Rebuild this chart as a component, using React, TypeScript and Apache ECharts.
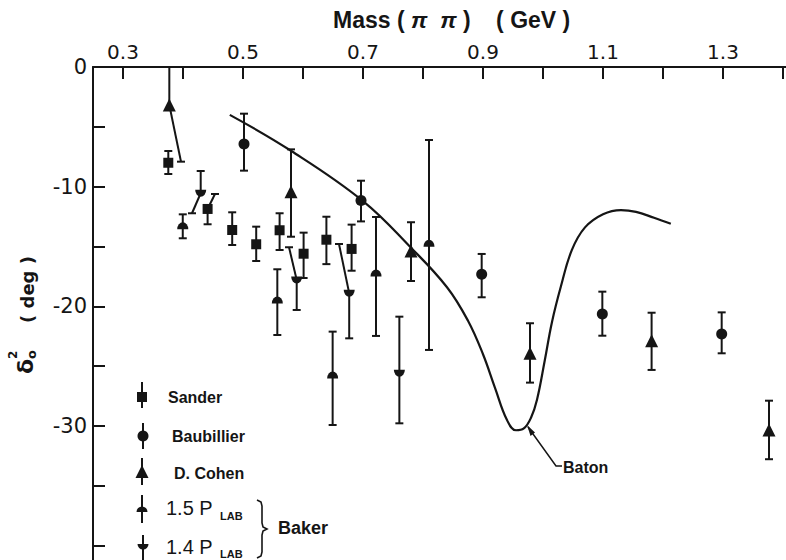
import React, { useEffect, useRef } from 'react';
import * as echarts from 'echarts';

const xTickValues = [0.3, 0.4, 0.5, 0.6, 0.7, 0.8, 0.9, 1.0, 1.1, 1.2, 1.3, 1.4];
const xLabelValues = [0.3, 0.5, 0.7, 0.9, 1.1, 1.3];
const yTickValues = [0, -5, -10, -15, -20, -25, -30, -35, -40];
const yLabelValues = [0, -10, -20, -30];

// [mass, delta, low end, high end]
const sander = [
  [0.3755, -8.0, -8.94, -7.02],
  [0.441, -11.86, -13.14, -11.86],
  [0.482, -13.62, -14.87, -12.14],
  [0.522, -14.81, -16.21, -13.34],
  [0.561, -13.64, -15.29, -12.22],
  [0.601, -15.6, -17.63, -13.84],
  [0.639, -14.43, -16.47, -12.51],
  [0.681, -15.2, -17.02, -13.17],
];
const baubillier = [
  [0.5017, -6.43, -8.66, -3.9],
  [0.6967, -11.15, -12.9, -9.5],
  [0.8978, -17.32, -19.24, -15.62],
  [1.0989, -20.63, -22.45, -18.77],
  [1.2978, -22.31, -23.92, -20.5],
];
const cohen = [
  [0.3772, -3.17, -3.17, 0],
  [0.58, -10.42, -14.18, -6.88],
  [0.78, -15.37, -17.88, -12.97],
  [0.9783, -23.92, -26.37, -21.41],
  [1.181, -22.87, -25.31, -20.53],
  [1.3767, -30.33, -32.77, -27.88],
];
const baker15 = [
  [0.3996, -13.26, -14.31, -12.31],
  [0.5572, -19.47, -22.39, -16.9],
  [0.6494, -25.73, -29.91, -22.11],
  [0.7217, -17.21, -22.47, -12.53],
  [0.81, -14.73, -23.64, -6.1],
];
const baker14 = [
  [0.4295, -10.55, -10.55, -8.69],
  [0.5895, -17.79, -20.3, -17.79],
  [0.677, -18.9, -22.67, -18.9],
  [0.7606, -25.59, -29.77, -20.86],
];
// offset (slanted) error bars: [mass from, delta from, mass to, delta to]
const offsetBars = [
  [0.3772, -3.17, 0.3967, -7.91],
  [0.4295, -10.55, 0.415, -12.22],
  [0.441, -11.86, 0.4533, -10.61],
  [0.5895, -17.79, 0.5767, -15.06],
  [0.677, -18.9, 0.66, -14.79],
];
const batonMass = [0.478, 0.58, 0.70, 0.78, 0.84, 0.875, 0.90, 0.92, 0.94, 0.955, 0.968, 0.98, 0.99, 1.003, 1.015, 1.03, 1.048, 1.07, 1.10, 1.13, 1.155, 1.185, 1.213];
const batonDelta = [-4.0, -7.0, -11.2, -15.1, -18.4, -21.2, -24.0, -26.8, -29.5, -30.35, -30.2, -29.3, -27.8, -24.5, -21.3, -18.3, -15.3, -13.4, -12.3, -11.95, -12.1, -12.6, -13.1];

const INK = '#151515';
const SANS = '"Liberation Sans", Arial, sans-serif';
const DEJAVU = '"DejaVu Sans", sans-serif';

const domePath = 'path://M0,10 A10,10 0 0 1 20,10 Z';
const bowlPath = 'path://M0,0 L20,0 A10,10 0 0 1 0,0 Z';

function errorBarItem(params: any, api: any) {
  const x = api.value(0);
  const v = api.value(1);
  const lo = api.value(2);
  const hi = api.value(3);
  const pLo = api.coord([x, lo]);
  const pHi = api.coord([x, hi]);
  const children: any[] = [
    { type: 'line', shape: { x1: pLo[0], y1: pLo[1], x2: pHi[0], y2: pHi[1] }, style: { stroke: INK, lineWidth: 2 } },
  ];
  if (lo !== v) {
    children.push({ type: 'line', shape: { x1: pLo[0] - 4, y1: pLo[1], x2: pLo[0] + 4, y2: pLo[1] }, style: { stroke: INK, lineWidth: 2 } });
  }
  if (hi !== v && hi !== 0) {
    children.push({ type: 'line', shape: { x1: pHi[0] - 4, y1: pHi[1], x2: pHi[0] + 4, y2: pHi[1] }, style: { stroke: INK, lineWidth: 2 } });
  }
  return { type: 'group', children };
}

function offsetBarItem(params: any, api: any) {
  const a = api.coord([api.value(0), api.value(1)]);
  const b = api.coord([api.value(2), api.value(3)]);
  return {
    type: 'group',
    children: [
      { type: 'line', shape: { x1: a[0], y1: a[1], x2: b[0], y2: b[1] }, style: { stroke: INK, lineWidth: 2 } },
      { type: 'line', shape: { x1: b[0] - 4, y1: b[1], x2: b[0] + 4, y2: b[1] }, style: { stroke: INK, lineWidth: 2 } },
    ],
  };
}

function legendEntry(cx: number, top: number, bottom: number, symbol: any) {
  return [
    { type: 'line', shape: { x1: cx, y1: top, x2: cx, y2: bottom }, style: { stroke: INK, lineWidth: 2 } },
    symbol,
  ];
}

export default function App() {
  const ref = useRef<HTMLDivElement>(null);
  useEffect(() => {
    if (!ref.current) return;
    const chart = echarts.init(ref.current, null, { renderer: 'svg' });
    const allBars = [...sander, ...baubillier, ...cohen, ...baker15, ...baker14];
    const graphic: any[] = [
      // title
      {
        type: 'text', x: 333, y: 20,
        style: {
          text: 'Mass ( {p|π}  {p|π} )    ( GeV )',
          fontSize: 23, fontWeight: 'bold', fontFamily: SANS, fill: INK, verticalAlign: 'middle',
          rich: { p: { fontSize: 23, fontWeight: 'bold', fontStyle: 'italic', fontFamily: SANS, fill: INK } },
        },
      },
      // y axis name
      {
        type: 'group', x: 25, y: 374, rotation: Math.PI / 2,
        children: [
          { type: 'text', x: 0, y: 0, style: { text: 'δ', fontSize: 22, fontWeight: 'bold', fontFamily: DEJAVU, fill: INK, verticalAlign: 'middle' } },
          { type: 'text', x: 15, y: -12, style: { text: '2', fontSize: 12, fontWeight: 'bold', fontFamily: DEJAVU, fill: INK, verticalAlign: 'middle' } },
          { type: 'text', x: 15, y: 6, style: { text: 'o', fontSize: 13, fontWeight: 'bold', fontFamily: DEJAVU, fill: INK, verticalAlign: 'middle' } },
          { type: 'text', x: 51, y: 2, style: { text: '( deg )', fontSize: 18, fontWeight: 'bold', fontFamily: DEJAVU, fill: INK, verticalAlign: 'middle' } },
        ],
      },
      // legend
      ...legendEntry(142, 382, 408, { type: 'rect', shape: { x: 137, y: 392, width: 10, height: 10 }, style: { fill: INK } }),
      { type: 'text', x: 168, y: 397, style: { text: 'Sander', fontSize: 16, fontWeight: 'bold', fontFamily: SANS, fill: INK, verticalAlign: 'middle' } },
      ...legendEntry(143, 423, 449, { type: 'circle', shape: { cx: 143, cy: 436, r: 5.5 }, style: { fill: INK } }),
      { type: 'text', x: 172, y: 436, style: { text: 'Baubillier', fontSize: 16, fontWeight: 'bold', fontFamily: SANS, fill: INK, verticalAlign: 'middle' } },
      ...legendEntry(142, 458, 485, { type: 'polygon', shape: { points: [[142, 465], [135.5, 478], [148.5, 478]] }, style: { fill: INK } }),
      { type: 'text', x: 174, y: 473, style: { text: 'D. Cohen', fontSize: 16, fontWeight: 'bold', fontFamily: SANS, fill: INK, verticalAlign: 'middle' } },
      ...legendEntry(142, 495, 523, { type: 'sector', shape: { cx: 142, cy: 512, r: 5.5, r0: 0, startAngle: Math.PI, endAngle: Math.PI * 2, clockwise: true }, style: { fill: INK } }),
      { type: 'text', x: 166, y: 508, style: { text: '1.5 P', fontSize: 20, fontFamily: SANS, fill: INK, verticalAlign: 'middle' } },
      { type: 'text', x: 220, y: 516, style: { text: 'LAB', fontSize: 11, fontWeight: 'bold', fontFamily: SANS, fill: INK, verticalAlign: 'middle' } },
      ...legendEntry(143, 535, 560, { type: 'sector', shape: { cx: 143, cy: 544, r: 5.5, r0: 0, startAngle: 0, endAngle: Math.PI, clockwise: true }, style: { fill: INK } }),
      { type: 'text', x: 166, y: 547, style: { text: '1.4 P', fontSize: 20, fontFamily: SANS, fill: INK, verticalAlign: 'middle' } },
      { type: 'text', x: 220, y: 554, style: { text: 'LAB', fontSize: 11, fontWeight: 'bold', fontFamily: SANS, fill: INK, verticalAlign: 'middle' } },
      {
        type: 'polyline',
        shape: { points: [[257, 500], [261, 502], [262, 506], [262, 523], [263, 527], [267, 529], [263, 531], [262, 535], [262, 552], [261, 556], [257, 558]] },
        style: { stroke: INK, lineWidth: 1.6, fill: null },
      },
      { type: 'text', x: 278, y: 528, style: { text: 'Baker', fontSize: 18, fontWeight: 'bold', fontFamily: SANS, fill: INK, verticalAlign: 'middle' } },
      // Baton annotation
      { type: 'polyline', shape: { points: [[528, 427], [556, 466], [562, 466]] }, style: { stroke: INK, lineWidth: 1.5, fill: null } },
      { type: 'polygon', shape: { points: [[527, 425], [530.5, 436], [535, 432.5]] }, style: { fill: INK } },
      { type: 'text', x: 563, y: 467, style: { text: 'Baton', fontSize: 16, fontWeight: 'bold', fontFamily: SANS, fill: INK, verticalAlign: 'middle' } },
    ];

    const dot = { color: INK, opacity: 1 };

    chart.setOption({
      animation: false,
      backgroundColor: '#fff',
      grid: { left: 93, top: 67, right: 0, bottom: 0, containLabel: false },
      xAxis: {
        type: 'value', position: 'top', min: 0.25, max: 1.405,
        axisLine: { show: true, onZero: false, lineStyle: { color: INK, width: 2 } },
        axisTick: { show: true, inside: true, length: 12, customValues: xTickValues, lineStyle: { color: INK, width: 2 } },
        axisLabel: {
          show: true, customValues: xLabelValues, formatter: (v: number) => v.toFixed(1),
          fontSize: 20, fontFamily: DEJAVU, color: INK, margin: 5,
        },
        splitLine: { show: false },
      },
      yAxis: {
        type: 'value', min: -41.19, max: 0,
        axisLine: { show: true, onZero: false, lineStyle: { color: INK, width: 2 } },
        axisTick: { show: true, inside: true, length: 12, customValues: yTickValues, lineStyle: { color: INK, width: 2 } },
        axisLabel: {
          show: true, customValues: yLabelValues, formatter: (v: number) => String(v),
          fontSize: 21, fontFamily: DEJAVU, color: INK, margin: 6,
        },
        splitLine: { show: false },
      },
      graphic,
      series: [
        {
          type: 'line', name: 'Baton', data: batonMass.map((m, i) => [m, batonDelta[i]]),
          smooth: 0.4, showSymbol: false, symbol: 'none',
          lineStyle: { color: INK, width: 2.2 }, z: 2,
        },
        { type: 'custom', name: 'errors', data: allBars, renderItem: errorBarItem, encode: { x: 0, y: 1 }, z: 3 },
        { type: 'custom', name: 'offset', data: offsetBars, renderItem: offsetBarItem, encode: { x: [0, 2], y: [1, 3] }, z: 3 },
        { type: 'scatter', name: 'Sander', data: sander.map((d) => [d[0], d[1]]), symbol: 'rect', symbolSize: 10, itemStyle: dot, z: 4 },
        { type: 'scatter', name: 'Baubillier', data: baubillier.map((d) => [d[0], d[1]]), symbol: 'circle', symbolSize: 11, itemStyle: dot, z: 4 },
        { type: 'scatter', name: 'D. Cohen', data: cohen.map((d) => [d[0], d[1]]), symbol: 'triangle', symbolSize: 13, itemStyle: dot, z: 4 },
        { type: 'scatter', name: '1.5 PLAB', data: baker15.map((d) => [d[0], d[1]]), symbol: domePath, symbolSize: [11, 7], itemStyle: dot, z: 4 },
        { type: 'scatter', name: '1.4 PLAB', data: baker14.map((d) => [d[0], d[1]]), symbol: bowlPath, symbolSize: [11, 7], itemStyle: dot, z: 4 },
      ],
    });
    return () => chart.dispose();
  }, []);
  return <div ref={ref} style={{ position: 'fixed', left: 0, top: 0, width: 786, height: 560, background: '#fff' }} />;
}
